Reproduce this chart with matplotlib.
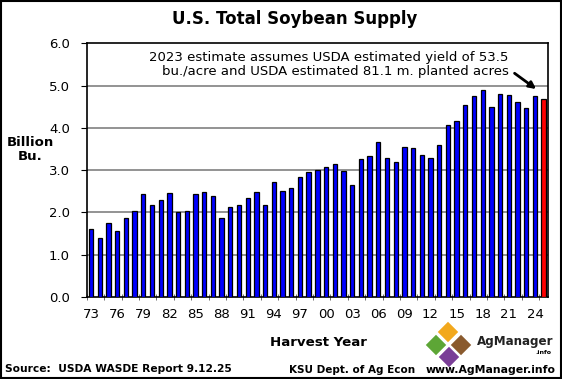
import matplotlib
matplotlib.use("Agg")
import matplotlib.pyplot as plt
import matplotlib.patches as patches

# harvest years 1973-2025, supply in billion bushels (2025 = current estimate)
years = list(range(1973, 2026))
supply = [1.61, 1.39, 1.75, 1.55, 1.88, 2.03, 2.44, 2.17, 2.30, 2.45,
          2.00, 2.04, 2.43, 2.48, 2.38, 1.86, 2.12, 2.18, 2.33, 2.48,
          2.18, 2.72, 2.51, 2.57, 2.84, 2.96, 3.01, 3.08, 3.15, 2.99,
          2.65, 3.26, 3.34, 3.67, 3.28, 3.20, 3.54, 3.52, 3.35, 3.28,
          3.60, 4.06, 4.16, 4.55, 4.75, 4.90, 4.49, 4.79, 4.77, 4.60,
          4.47, 4.75, 4.68]
tick_labels = [f"{y % 100:02d}" for y in years]

W, H = 562, 379
fig = plt.figure(figsize=(W / 100, H / 100), dpi=100, facecolor="white")

# main plot area (pixel box 87..548 x 43..297)
ax = fig.add_axes([86.7 / W, 1 - 297 / H, (548 - 86.7) / W, (297 - 43.3) / H])
x = list(range(len(years)))
colors = ["#0000FF"] * (len(years) - 1) + ["#FF0000"]
ax.bar(x, supply, width=0.5, color=colors, edgecolor="black", linewidth=0.9, zorder=3)

ax.set_xlim(-0.5, len(years) - 0.5)
ax.set_ylim(0, 6)
ax.set_yticks([0, 1, 2, 3, 4, 5, 6])
ax.set_yticklabels([f"{v:.1f}" for v in range(7)], fontsize=9.5)
ax.set_xticks(x[::3])
ax.set_xticklabels(tick_labels[::3], fontsize=9.5)
ax.set_xticks([i - 0.5 for i in range(0, len(years) + 1, 2)], minor=True)
ax.tick_params(axis="x", which="major", length=0, pad=8)
ax.tick_params(axis="x", which="minor", direction="inout", length=5, color="#555555")
ax.tick_params(axis="y", direction="out", length=4, pad=8)
for yv in range(1, 6):
    ax.axhline(yv, color="#808080", linewidth=1.2, zorder=1)
for s in ax.spines.values():
    s.set_color("black")
    s.set_linewidth(1.2)

ax.text(48.0, 5.82, "2023 estimate assumes USDA estimated yield of 53.5\n"
        "bu./acre and USDA estimated 81.1 m. planted acres",
        ha="right", va="top", multialignment="right", fontsize=9.5, linespacing=1.1)
ax.annotate("", xy=(51.4, 4.88), xytext=(48.4, 5.33),
            arrowprops=dict(arrowstyle="-|>", color="black", linewidth=2, mutation_scale=10))

# overlay in pixel coordinates for titles, footer and logo
ov = fig.add_axes([0, 0, 1, 1], facecolor="none")
ov.set_xlim(0, W)
ov.set_ylim(H, 0)
ov.axis("off")
ov.add_patch(patches.Rectangle((1, 1), W - 2, H - 2, fill=False, edgecolor="black", linewidth=1.5))

ov.text(295, 19, "U.S. Total Soybean Supply", ha="center", va="center", fontsize=12, weight="bold")
ov.text(30, 150, "Billion\nBu.", ha="center", va="center", fontsize=9.5, weight="bold", linespacing=1.1)
ov.text(318, 343, "Harvest Year", ha="center", va="center", fontsize=9.6, weight="bold")
ov.text(5, 369, "Source:  USDA WASDE Report 9.12.25", ha="left", va="center", fontsize=7.7, weight="bold")
ov.text(352, 370, "KSU Dept. of Ag Econ", ha="center", va="center", fontsize=7.5, weight="bold")
ov.text(556, 370, "www.AgManager.info", ha="right", va="center", fontsize=7.8, weight="bold")

# simple AgManager diamond logo
def diamond(cx, cy, r, color):
    ov.add_patch(patches.Polygon([[cx, cy - r], [cx + r, cy], [cx, cy + r], [cx - r, cy]],
                                 closed=True, facecolor=color, edgecolor="white", linewidth=0.8))

diamond(448, 332, 11, "#F2A81D")
diamond(436, 345, 11, "#5DA636")
diamond(461, 345, 11, "#8A5A2E")
diamond(449, 357, 11, "#7A3E97")
ov.text(515, 341, "AgManager", ha="center", va="center", fontsize=8.6, weight="bold", color="#222222")
ov.text(551, 352, ".info", ha="right", va="center", fontsize=4.5, weight="bold")

fig.savefig("out.png", dpi=100)
